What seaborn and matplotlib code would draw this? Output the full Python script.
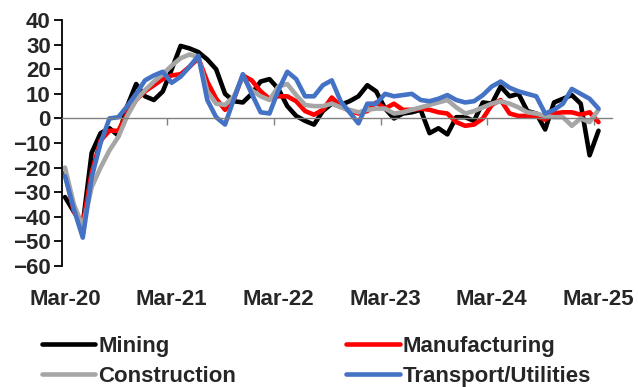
import matplotlib
matplotlib.use("Agg")
import matplotlib.pyplot as plt
import numpy as np
import pandas as pd
import seaborn as sns

# monthly survey balances, Mar-20 .. Mar-25 (61 months)
months = pd.date_range("2020-03-01", "2025-03-01", freq="MS")

mining = [-32, -38, -43, -14, -6, -4, -7, 5, 14, 9, 7.5, 11, 20, 29.5, 28.5,
          27, 24, 20, 10, 7, 6.5, 10, 15, 16, 12, 5, 1, -1, -2.5, 3,
          6, 5.5, 7, 9, 13.5, 11, 4, 0, 2, 2.5, 3.5, -6, -4, -6.5, 0.5,
          0.5, -1, 6.5, 6, 13, 9, 10, 3, 2, -4.5, 6.5, 8, 9.5, 6, -15, -5]
manufacturing = [-22, -38, -43, -22, -9, -5, -5, 2, 7.5, 11, 13.5, 16, 17.5, 18, 21,
                 24.5, 15, 8, 3.5, 8, 17.5, 15.5, 11, 8, 9, 9, 7, 3, 1.5, 3.5,
                 8.5, 5, 3, 2, 3, 6.5, 4, 6, 3.5, 3.5, 4, 3.5, 2.5, 2, -1.5,
                 -3, -2.5, 0, 5.5, 7.5, 2, 1, 1, 1, -0.5, 2, 2.5, 2.5, 1.5, 2.5, -1.5]
construction = [-20, -35, -44, -28, -20, -13, -7.5, 1, 7.5, 11.5, 15, 18, 21.5, 24.5, 26,
                25, 11, 6, 5.5, 9, 17, 11.5, 9, 7.5, 13, 14, 9.5, 5.5, 5, 5,
                6, 4.5, 3.5, 2.5, 3.5, 4, 4, 2, 2.5, 3.5, 4.5, 5.5, 6.5, 7.5, 4.5,
                2, 3, 4.5, 6, 7, 6, 4.5, 2.5, 2, 1, 0.5, 0.5, -3, 0, -1.5, 3.5]
transport = [-23.5, -37, -48.5, -24, -10, 0, 0.5, 5, 10, 15.5, 17.5, 19, 14.5, 17, 21,
             25.5, 7.5, 0.5, -2.5, 8, 18, 10, 2.5, 2, 11.5, 19, 16, 9, 9, 13.5,
             15.5, 7, 2.5, -2, 6, 6, 10, 9, 9.5, 10, 7.5, 7, 8, 9.5, 7.5,
             6.5, 7, 9.5, 13, 15, 12.5, 11, 10, 9, 2, 3.5, 6, 12, 10, 8, 4]

names = ["Mining", "Manufacturing", "Construction", "Transport/Utilities"]
colors = ["#000000", "#FF0000", "#A6A6A6", "#4472C4"]
tick_labels = ["Mar-20", "Mar-21", "Mar-22", "Mar-23", "Mar-24", "Mar-25"]

sns.set_style("white")
plt.rcParams["font.family"] = ["Liberation Sans", "DejaVu Sans"]
plt.rcParams["font.weight"] = "bold"

fig = plt.figure(figsize=(6.38, 3.87), dpi=100)
ax = fig.add_axes([0.097, 0.313, 0.862, 0.635])

idx = np.arange(len(months))
for name, vals, col in zip(names, [mining, manufacturing, construction, transport], colors):
    sns.lineplot(x=idx, y=vals, color=col, linewidth=3.3, label=name, ax=ax, legend=False)

ax.set_xlim(-0.35, 61.5)
ax.set_ylim(-60, 40)
ax.set_yticks(range(-60, 41, 10))
ax.tick_params(axis="y", direction="out", length=6, width=1.3, color="black",
               labelsize=16, pad=2, left=True)
ax.spines["left"].set_color("black")
ax.spines["left"].set_linewidth(1.3)
ax.spines["top"].set_visible(False)
ax.spines["right"].set_visible(False)

# zero line acts as the x axis, year ticks sit on it
ax.spines["bottom"].set_position(("data", 0))
ax.spines["bottom"].set_color("#808080")
ax.spines["bottom"].set_linewidth(1)
ax.set_xticks([12 * k - 0.5 for k in range(1, 6)])
ax.set_xticklabels([])
ax.tick_params(axis="x", direction="out", length=5, width=1, color="#808080", bottom=True)

sec = ax.secondary_xaxis("bottom")
sec.set_xticks([12 * k for k in range(len(tick_labels))], labels=tick_labels)
sec.tick_params(length=0, pad=17, labelsize=16)
sec.spines["bottom"].set_visible(False)

h, l = ax.get_legend_handles_labels()
order = [0, 2, 1, 3]
fig.legend([h[i] for i in order], [l[i] for i in order], ncol=2, loc="upper left",
           bbox_to_anchor=(42 / 638, 1 - 336 / 387), frameon=False, fontsize=16,
           handlelength=2.4, handletextpad=0.14, columnspacing=4.95, labelspacing=0.4,
           borderaxespad=0, borderpad=0)

fig.savefig("out.png", dpi=100)
